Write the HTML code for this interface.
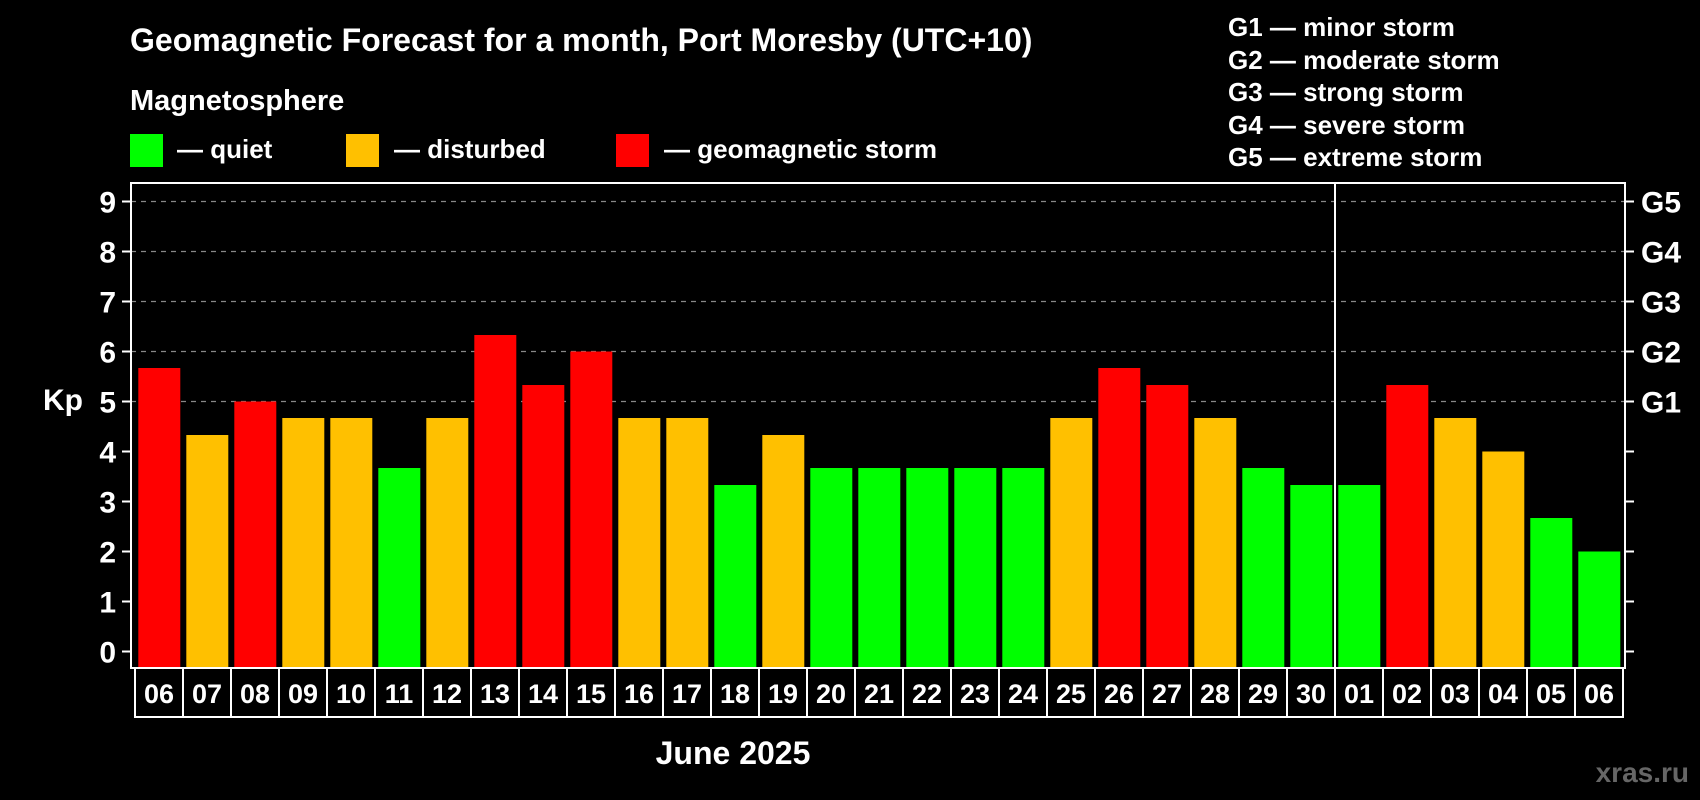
<!DOCTYPE html>
<html><head><meta charset="utf-8"><style>
html,body{margin:0;padding:0;background:#000;}
svg{display:block;font-family:"Liberation Sans",Arial,sans-serif;font-weight:bold;}
</style></head><body>
<svg width="1700" height="800" viewBox="0 0 1700 800">
<rect width="1700" height="800" fill="#000"/>
<text x="130" y="51" fill="#fff" font-size="32">Geomagnetic Forecast for a month, Port Moresby (UTC+10)</text>
<text x="130" y="110" fill="#fff" font-size="29">Magnetosphere</text>
<g><rect x="130" y="134" width="33" height="33" fill="#00ff00"/><text x="177" y="158" fill="#fff" font-size="26">— quiet</text></g>
<g><rect x="346" y="134" width="33" height="33" fill="#ffc000"/><text x="394" y="158" fill="#fff" font-size="26">— disturbed</text></g>
<g><rect x="616" y="134" width="33" height="33" fill="#ff0000"/><text x="664" y="158" fill="#fff" font-size="26">— geomagnetic storm</text></g>
<g fill="#fff" font-size="26">
<text x="1228" y="36">G1 — minor storm</text>
<text x="1228" y="69">G2 — moderate storm</text>
<text x="1228" y="101">G3 — strong storm</text>
<text x="1228" y="134">G4 — severe storm</text>
<text x="1228" y="166">G5 — extreme storm</text>
</g>
<g id="grid"></g>
<g id="bars"></g>
<g id="axes"></g>
<text x="43" y="410" fill="#fff" font-size="30">Kp</text>
<text x="733" y="764" fill="#fff" font-size="32" text-anchor="middle">June 2025</text>
<text x="1689" y="782" fill="#666" font-size="28" text-anchor="end">xras.ru</text>
</svg>
<script>
const days = ["06","07","08","09","10","11","12","13","14","15","16","17","18","19","20","21","22","23","24","25","26","27","28","29","30","01","02","03","04","05","06"];
const kp = [5.67,4.33,5,4.67,4.67,3.67,4.67,6.33,5.33,6,4.67,4.67,3.33,4.33,3.67,3.67,3.67,3.67,3.67,4.67,5.67,5.33,4.67,3.67,3.33,3.33,5.33,4.67,4,2.67,2];
const yTicks = [0,1,2,3,4,5,6,7,8,9];
const gLabels = ["","","","","","G1","G2","G3","G4","G5"];
const monthBreak = 25;
const NS="http://www.w3.org/2000/svg";
const L=131,R=1625,T=183,B=668;
const y=v=>651.5-v*50;
const pitch=48, x0=135;
const bx=i=>x0+i*pitch;
function mk(tag,attrs,parent){const e=document.createElementNS(NS,tag);for(const k in attrs)e.setAttribute(k,attrs[k]);parent.appendChild(e);return e;}
const grid=document.getElementById('grid'),bars=document.getElementById('bars'),axes=document.getElementById('axes');
yTicks.forEach((t,i)=>{
  if(t>=5){const g=mk('line',{x1:L,x2:R,y1:y(t),y2:y(t),stroke:'#888','stroke-width':1.2,'stroke-dasharray':'5,5'},grid);
  
  }
  mk('line',{x1:L-9,x2:L,y1:y(t),y2:y(t),stroke:'#fff','stroke-width':2},axes);
  mk('line',{x1:R,x2:R+9,y1:y(t),y2:y(t),stroke:'#fff','stroke-width':2},axes);
  const tl=mk('text',{x:116,y:y(t)+11,fill:'#fff','font-size':30,'text-anchor':'end'},axes);tl.textContent=t;
  
  
  if(gLabels[i]){const gl=mk('text',{x:1641,y:y(t)+11,fill:'#fff','font-size':30},axes);gl.textContent=gLabels[i];
  
  }
});
kp.forEach((v,i)=>{
  const c=v>=5?'#ff0000':(v>=4?'#ffc000':'#00ff00');
  const r=mk('rect',{x:bx(i)+3.3,y:y(v),width:42,height:B-y(v),fill:c},bars);
  
  
  const b=mk('rect',{x:bx(i),y:B,width:pitch,height:49,fill:'none',stroke:'#fff','stroke-width':2},axes);
  
  
  const t=mk('text',{x:bx(i)+pitch/2,y:B+35,fill:'#fff','font-size':27,'text-anchor':'middle'},axes);t.textContent=days[i];
  
  
});
const fr=mk('rect',{x:L,y:T,width:R-L,height:B-T,fill:'none',stroke:'#fff','stroke-width':2},axes);


const dv=mk('line',{x1:bx(monthBreak),x2:bx(monthBreak),y1:T,y2:B+49,stroke:'#fff','stroke-width':2},axes);


</script>
</body></html>
